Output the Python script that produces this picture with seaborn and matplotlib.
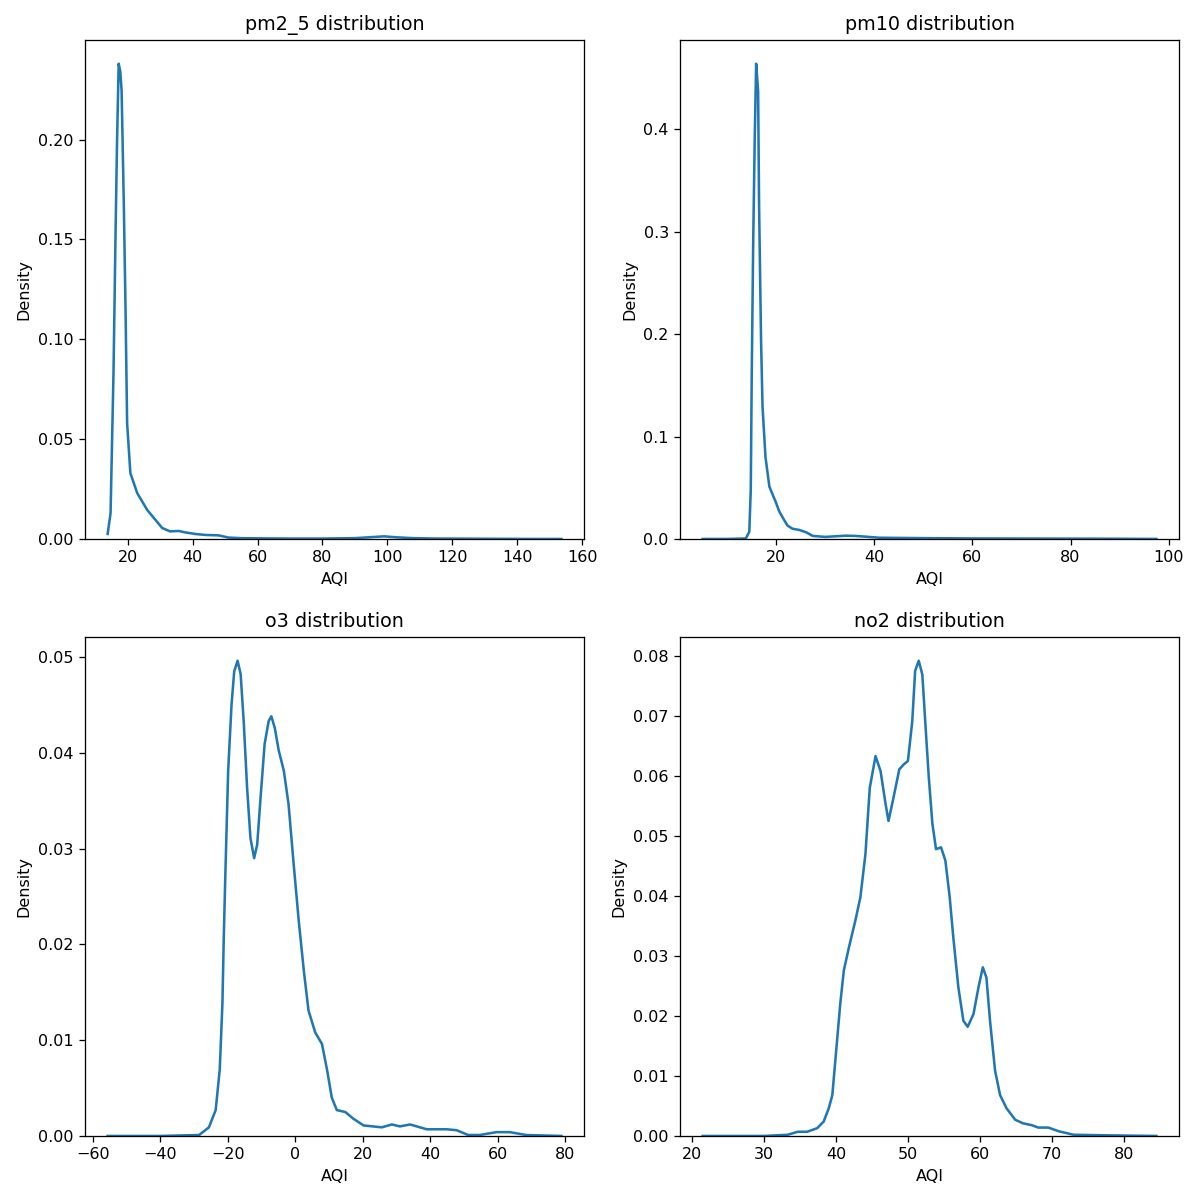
import matplotlib
matplotlib.use("Agg")
import matplotlib.pyplot as plt
import seaborn as sns

# ---- data (AQI vs density) ----
pm25_x = [13.8, 14.7, 15.6, 16.2, 16.7, 17.2, 17.7, 18.1, 18.8, 19.3, 19.8, 20.8, 22.9, 26.0, 30.6,
          33.0, 35.7, 38.0, 40.8, 44.0, 48.0, 51.0, 55.0, 60.0, 70.0, 80.0, 90.0, 95.0, 99.0, 103.0,
          108.0, 115.0, 130.0, 145.0, 153.6]
pm25_y = [0.0025, 0.013, 0.083, 0.1495, 0.1995, 0.238, 0.234, 0.2245, 0.166, 0.116, 0.058, 0.033,
          0.023, 0.0145, 0.0055, 0.0038, 0.004, 0.0032, 0.0025, 0.002, 0.0018, 0.0007, 0.0004,
          0.0003, 0.0002, 0.0002, 0.0004, 0.0009, 0.0013, 0.0008, 0.0004, 0.0002, 0.0001, 0.0, 0.0]

pm10_x = [5.0, 10.0, 13.8, 14.5, 14.8, 15.0, 15.3, 15.6, 15.9, 16.3, 16.5, 16.9, 17.2, 17.8, 18.6,
          19.9, 20.6, 21.3, 22.3, 23.3, 24.7, 26.1, 27.4, 28.1, 30.0, 34.2, 36.0, 38.3, 41.0, 50.0,
          60.0, 70.0, 80.0, 90.0, 97.5]
pm10_y = [0.0, 0.0, 0.0005, 0.007, 0.048, 0.161, 0.291, 0.389, 0.464, 0.437, 0.324, 0.194, 0.129,
          0.080, 0.051, 0.036, 0.027, 0.021, 0.013, 0.0100, 0.0088, 0.0065, 0.003, 0.0027, 0.002,
          0.0032, 0.003, 0.0022, 0.0012, 0.0008, 0.0005, 0.0004, 0.0003, 0.0002, 0.0]

o3_x = [-55.6, -40.0, -28.5, -25.6, -23.6, -22.4, -21.6, -21.2, -20.7, -19.9, -18.9, -18.1, -17.1,
        -16.2, -15.3, -14.3, -13.3, -12.2, -11.3, -10.3, -9.1, -7.9, -7.1, -6.1, -4.9, -3.4, -2.0,
        -0.5, 1.0, 2.5, 3.9, 5.9, 7.9, 9.4, 10.8, 12.3, 14.8, 17.2, 20.2, 25.6, 28.6, 31.0, 34.0,
        38.9, 44.8, 47.8, 51.2, 54.6, 59.6, 63.5, 68.4, 78.8]
o3_y = [0.0, 0.0, 0.0001, 0.0009, 0.0027, 0.0069, 0.0138, 0.0207, 0.0277, 0.0381, 0.045, 0.0485,
        0.0496, 0.0482, 0.0433, 0.0364, 0.0311, 0.029, 0.0304, 0.0353, 0.0409, 0.0433, 0.0438,
        0.0426, 0.0402, 0.0381, 0.0346, 0.0284, 0.0225, 0.0173, 0.0131, 0.0108, 0.0096, 0.0069,
        0.0040, 0.0027, 0.0025, 0.0018, 0.0011, 0.0009, 0.0012, 0.0010, 0.0012, 0.0007, 0.0007,
        0.0006, 0.0001, 0.0001, 0.0004, 0.0004, 0.0001, 0.0]

no2_x = [21.5, 30.0, 33.3, 34.7, 36.0, 37.4, 38.3, 39.0, 39.5, 40.0, 40.6, 41.1, 41.8, 42.7, 43.4,
         44.1, 44.7, 45.5, 46.2, 46.9, 47.3, 48.0, 48.8, 49.4, 50.0, 50.6, 51.0, 51.5, 52.0, 52.4,
         52.9, 53.4, 53.9, 54.6, 55.2, 55.8, 56.3, 57.0, 57.7, 58.3, 59.1, 59.8, 60.4, 60.9, 61.4,
         62.1, 62.8, 63.7, 64.9, 66.0, 67.2, 68.1, 69.5, 70.9, 73.0, 78.0, 84.5]
no2_y = [0.0, 0.0, 0.0002, 0.0007, 0.0007, 0.0013, 0.0024, 0.0046, 0.0068, 0.0137, 0.022, 0.0276,
         0.0314, 0.0359, 0.0398, 0.047, 0.058, 0.0633, 0.0608, 0.0553, 0.0525, 0.0564, 0.0611,
         0.0619, 0.0625, 0.0691, 0.0775, 0.0792, 0.0769, 0.0691, 0.0597, 0.052, 0.0478, 0.0481,
         0.0459, 0.0398, 0.0331, 0.0248, 0.0192, 0.0182, 0.0203, 0.0248, 0.0281, 0.0264, 0.0192,
         0.0109, 0.0068, 0.0046, 0.0027, 0.0021, 0.0018, 0.0014, 0.0014, 0.0008, 0.0002, 0.0001, 0.0]

titles = ["pm2_5 distribution", "pm10 distribution", "o3 distribution", "no2 distribution"]
series = [(pm25_x, pm25_y), (pm10_x, pm10_y), (o3_x, o3_y), (no2_x, no2_y)]

DPI = 115
fig, axes = plt.subplots(2, 2, figsize=(1190 / DPI, 1189 / DPI), dpi=DPI)
fig.subplots_adjust(left=0.0714, right=0.9908, top=0.9664, bottom=0.0446,
                    wspace=0.1924, hspace=0.1964)

for ax, (xs, ys), title in zip(axes.flat, series, titles):
    sns.lineplot(x=xs, y=ys, ax=ax, color="#1f77b4", linewidth=1.6)
    ax.set_ylim(bottom=0)
    ax.set_title(title, fontsize=12)
    ax.set_xlabel("AQI")
    ax.set_ylabel("Density")

fig.savefig("out.png", dpi=DPI)
